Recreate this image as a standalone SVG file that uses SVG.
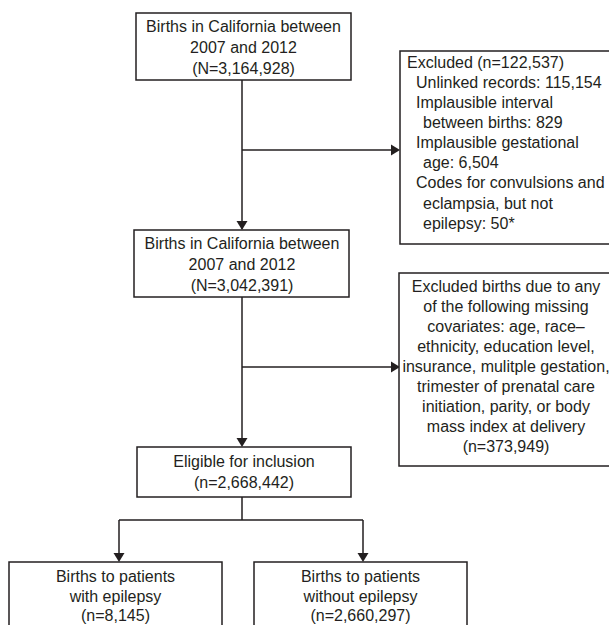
<svg xmlns="http://www.w3.org/2000/svg" width="609" height="625" viewBox="0 0 609 625">
<defs>
<style>
.box{fill:#fff;stroke:#231f20;stroke-width:1.5}
.ln{fill:none;stroke:#231f20;stroke-width:1.5}
text{font-family:"Liberation Sans",Arial,sans-serif;font-size:16px;fill:#231f20}
.c{text-anchor:middle}
</style>
<marker id="ah" viewBox="0 0 10 10" refX="10" refY="5" markerWidth="6" markerHeight="6" orient="auto" markerUnits="userSpaceOnUse">
<path d="M0,0 L10,5 L0,10 z" fill="#231f20"/>
</marker>
</defs>
<rect width="609" height="625" fill="#fff"/>
<g id="connectors">
<path class="ln" d="M242,80 V229" marker-end="url(#ah)" style="marker-end:none"/>
<path d="M236.5,221 L247.5,221 L242,230 z" fill="#231f20"/>
<path class="ln" d="M242,150 H391"/>
<path d="M391,144.5 L391,155.5 L400,150 z" fill="#231f20"/>
<path class="ln" d="M242,297 V439"/>
<path d="M236.5,438 L247.5,438 L242,447 z" fill="#231f20"/>
<path class="ln" d="M242,367 H391"/>
<path d="M391,361.5 L391,372.5 L400,367 z" fill="#231f20"/>
<path class="ln" d="M242,497 V520 M119,520 H363 M119,520 V554 M363,520 V554"/>
<path d="M113.5,553 L124.5,553 L119,562 z" fill="#231f20"/>
<path d="M357.5,553 L368.5,553 L363,562 z" fill="#231f20"/>
</g>
<g id="n1">
<rect class="box" x="136" y="13" width="215" height="67"/>
<text class="c" x="243.5" y="32">Births in California between</text>
<text class="c" x="243.5" y="53">2007 and 2012</text>
<text class="c" x="243.5" y="74">(N=3,164,928)</text>
</g>
<g id="n2">
<rect class="box" x="400" y="51" width="215" height="193"/>
<text x="407" y="68">Excluded (n=122,537)</text>
<text x="416" y="88">Unlinked records: 115,154</text>
<text x="416" y="108">Implausible interval</text>
<text x="423" y="128">between births: 829</text>
<text x="416" y="148">Implausible gestational</text>
<text x="423" y="168">age: 6,504</text>
<text x="416" y="188">Codes for convulsions and</text>
<text x="423" y="209">eclampsia, but not</text>
<text x="423" y="229">epilepsy: 50*</text>
</g>
<g id="n3">
<rect class="box" x="134" y="230" width="215" height="67"/>
<text class="c" x="242" y="249">Births in California between</text>
<text class="c" x="242" y="270">2007 and 2012</text>
<text class="c" x="242" y="291">(N=3,042,391)</text>
</g>
<g id="n4">
<rect class="box" x="399" y="273" width="215" height="193"/>
<text class="c" x="506" y="292">Excluded births due to any</text>
<text class="c" x="506" y="312">of the following missing</text>
<text class="c" x="506" y="332">covariates: age, race–</text>
<text class="c" x="506" y="352">ethnicity, education level,</text>
<text class="c" x="506" y="372">insurance, mulitple gestation,</text>
<text class="c" x="506" y="392">trimester of prenatal care</text>
<text class="c" x="506" y="412">initiation, parity, or body</text>
<text class="c" x="506" y="432">mass index at delivery</text>
<text class="c" x="506" y="452">(n=373,949)</text>
</g>
<g id="n5">
<rect class="box" x="137" y="447" width="214" height="50"/>
<text class="c" x="244" y="467">Eligible for inclusion</text>
<text class="c" x="244" y="488">(n=2,668,442)</text>
</g>
<g id="n6">
<rect class="box" x="9" y="562" width="213" height="80"/>
<text class="c" x="115.5" y="582">Births to patients</text>
<text class="c" x="115.5" y="602">with epilepsy</text>
<text class="c" x="115.5" y="621">(n=8,145)</text>
</g>
<g id="n7">
<rect class="box" x="254" y="562" width="213" height="80"/>
<text class="c" x="360.5" y="582">Births to patients</text>
<text class="c" x="360.5" y="602">without epilepsy</text>
<text class="c" x="360.5" y="621">(n=2,660,297)</text>
</g>
</svg>
